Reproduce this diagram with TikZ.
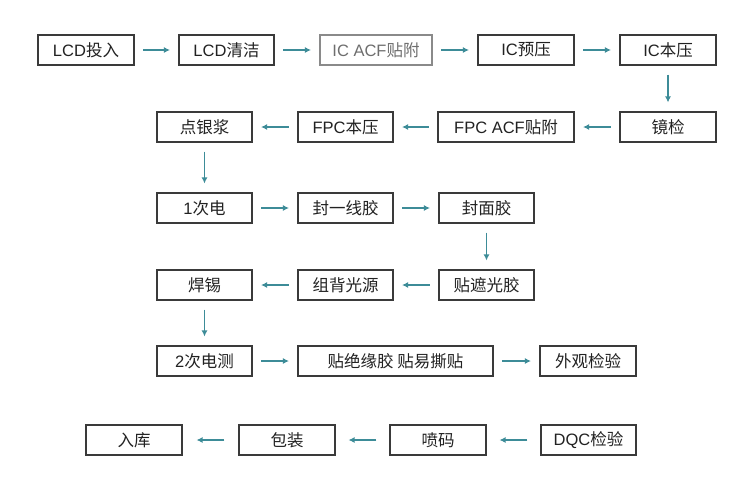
\documentclass[tikz,border=0pt]{standalone}
\usepackage{fontspec}
\setmainfont{Noto Sans CJK SC}
\newfontfamily\lat{Liberation Sans}
\usetikzlibrary{arrows.meta}
\definecolor{boxline}{HTML}{3A3A3A}
\definecolor{txt}{HTML}{222222}
\definecolor{grayline}{HTML}{8A8A8A}
\definecolor{graytxt}{HTML}{6E6E6E}
\definecolor{teal}{HTML}{3D8C98}
\tikzset{
  box/.style={draw=boxline, line width=1.1pt, minimum height=30pt, minimum width=96pt,
    inner sep=0pt, text=txt, font=\fontsize{16.5}{18}\selectfont},
  graybox/.style={box, draw=grayline, text=graytxt},
  arr/.style={draw=teal, line width=1.3pt, -{Latex[length=6pt,width=6pt]},
    shorten <=#1, shorten >=#1},
  arr/.default=8.5pt
}
\begin{document}
\begin{tikzpicture}[x=1pt,y=-1pt]
\useasboundingbox[fill=white] (0,0) rectangle (750,482);
% row 1
\node[box] (a1) at (86,50) {{\lat LCD}投入};
\node[box, minimum width=95pt] (a2) at (226.5,50) {{\lat LCD}清洁};
\node[graybox, minimum width=112pt] (a3) at (376,50) {{\lat IC ACF}贴附};
\node[box] (a4) at (526,50) {{\lat IC}预压};
\node[box] (a5) at (668,50) {{\lat IC}本压};
% row 2
\node[box] (b1) at (668,127) {镜检};
\node[box, minimum width=136pt] (b2) at (506,127) {{\lat FPC ACF}贴附};
\node[box, minimum width=95pt] (b3) at (345.5,127) {{\lat FPC}本压};
\node[box, minimum width=95pt] (b4) at (204.5,127) {点银浆};
% row 3
\node[box, minimum width=95pt] (c1) at (204.5,208) {{\lat 1}次电};
\node[box, minimum width=95pt] (c2) at (345.5,208) {封一线胶};
\node[box, minimum width=95pt] (c3) at (486.5,208) {封面胶};
% row 4
\node[box, minimum width=95pt] (d1) at (486.5,285) {贴遮光胶};
\node[box, minimum width=95pt] (d2) at (345.5,285) {组背光源};
\node[box, minimum width=95pt] (d3) at (204.5,285) {焊锡};
% row 5
\node[box, minimum width=95pt] (e1) at (204.5,361) {{\lat 2}次电测};
\node[box, minimum width=195pt] (e2) at (395.5,361) {贴绝缘胶 贴易撕贴};
\node[box] (e3) at (588,361) {外观检验};
% row 6
\node[box, minimum width=95pt] (f1) at (588.5,440) {{\lat DQC}检验};
\node[box] (f2) at (438,440) {喷码};
\node[box] (f3) at (287,440) {包装};
\node[box] (f4) at (134,440) {入库};
% arrows
\draw[arr] (a1) -- (a2);
\draw[arr] (a2) -- (a3);
\draw[arr] (a3) -- (a4);
\draw[arr] (a4) -- (a5);
\draw[arr=9pt] (a5) -- (b1);
\draw[arr] (b1) -- (b2);
\draw[arr] (b2) -- (b3);
\draw[arr] (b3) -- (b4);
\draw[arr=9pt] (b4) -- (c1);
\draw[arr] (c1) -- (c2);
\draw[arr] (c2) -- (c3);
\draw[arr=9pt] (c3) -- (d1);
\draw[arr] (d1) -- (d2);
\draw[arr] (d2) -- (d3);
\draw[arr=9pt] (d3) -- (e1);
\draw[arr] (e1) -- (e2);
\draw[arr] (e2) -- (e3);
\draw[arr=13pt] (f1) -- (f2);
\draw[arr=13pt] (f2) -- (f3);
\draw[arr=14pt] (f3) -- (f4);
\end{tikzpicture}
\end{document}
